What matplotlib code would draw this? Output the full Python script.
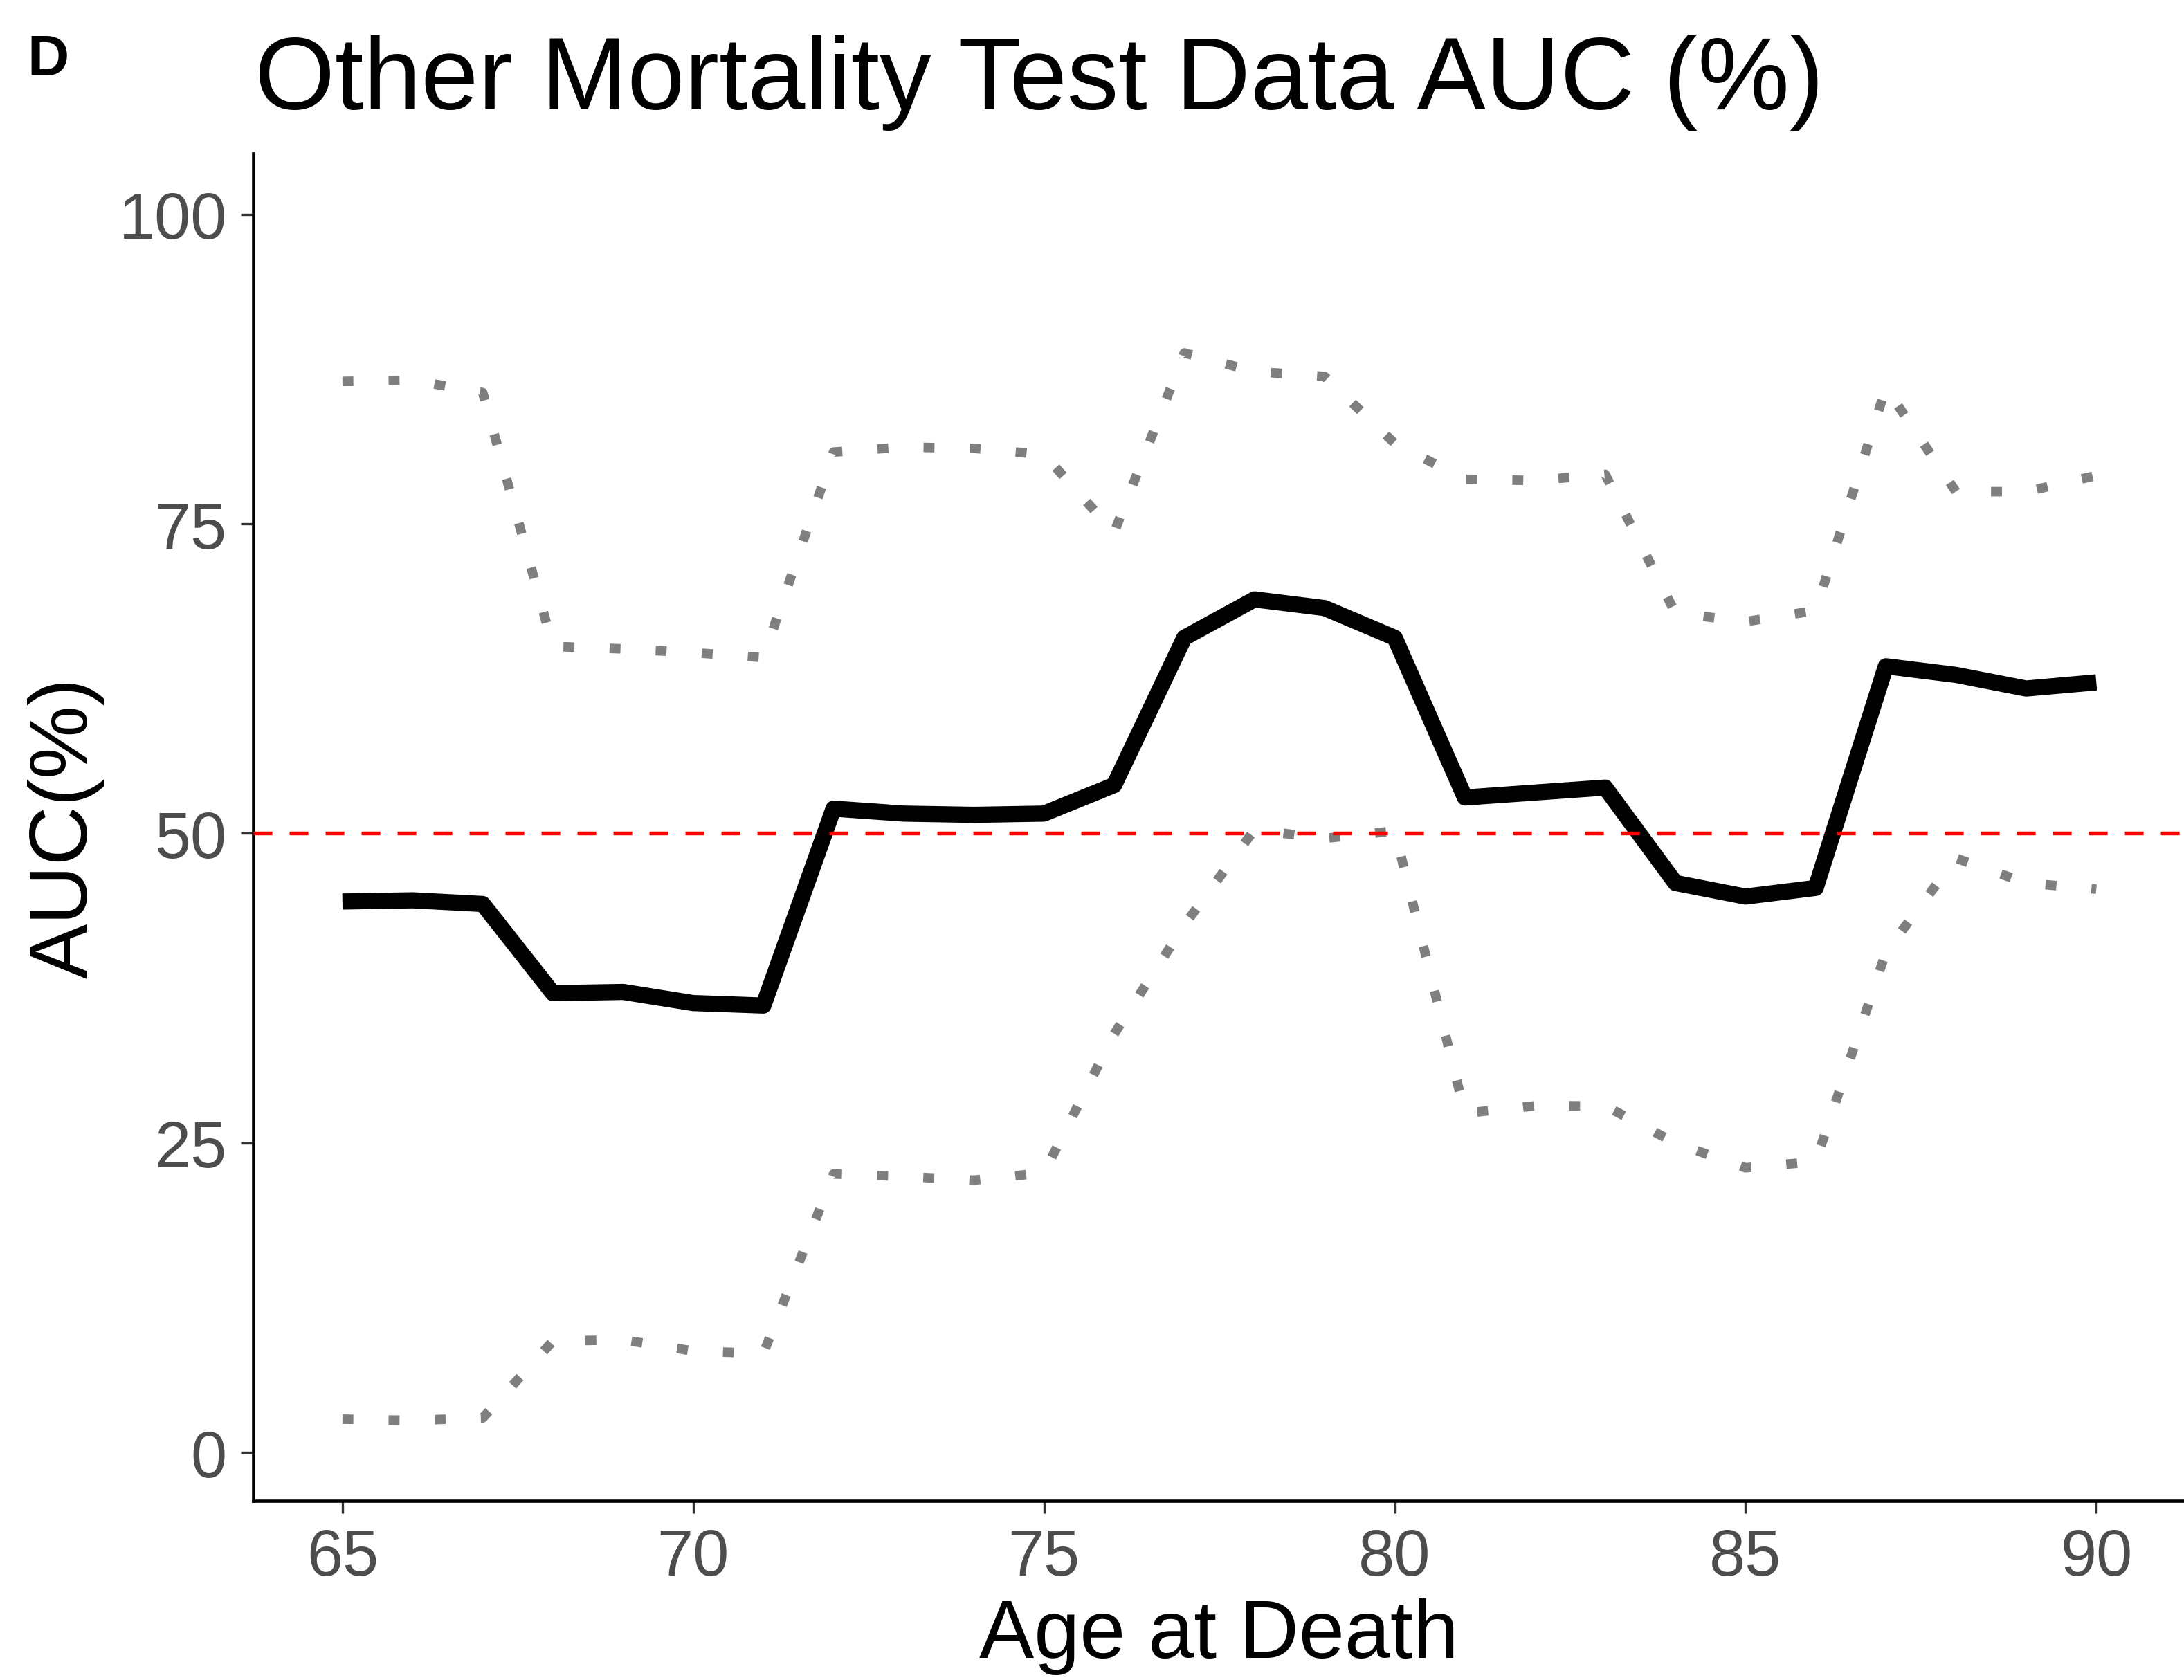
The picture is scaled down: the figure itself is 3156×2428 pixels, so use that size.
import numpy as np
import matplotlib
matplotlib.use("Agg")
import matplotlib.pyplot as plt

plt.rcParams["font.family"] = ["Liberation Sans", "DejaVu Sans"]

# Data
ages = list(range(65, 91))
auc = [44.5, 44.6, 44.3, 37.1, 37.2, 36.3, 36.1, 52.0, 51.6, 51.5, 51.6, 53.9, 65.8,
       68.9, 68.2, 65.8, 52.9, 53.3, 53.7, 46.0, 44.9, 45.6, 63.5, 62.8, 61.7, 62.2]
upper_ci = [86.5, 86.6, 85.6, 65.1, 64.9, 64.6, 64.2, 80.8, 81.2, 81.1, 80.6, 74.3, 88.8,
            87.3, 86.9, 81.5, 78.6, 78.5, 79.0, 67.8, 67.1, 68.0, 86.0, 77.6, 77.6, 78.9]
lower_ci = [2.7, 2.6, 2.8, 9.0, 9.1, 8.2, 8.0, 22.5, 22.3, 22.0, 22.6, 33.8, 42.6,
            50.3, 49.6, 50.2, 27.4, 28.0, 28.0, 25.0, 23.0, 23.5, 40.4, 48.0, 46.0, 45.5]
x_ticks = [65, 70, 75, 80, 85, 90]
y_ticks = [0, 25, 50, 75, 100]

fig = plt.figure(figsize=(3156 / 300, 2429 / 300), dpi=300)
ax = fig.add_axes([0.116, 0.1066, 0.884, 0.8016])

dot_style = (0, (1.15, 3.7))
for band in (upper_ci, lower_ci):
    ax.plot(ages, band, color="#7F7F7F", lw=3.3, linestyle=dot_style,
            dash_capstyle="butt", dash_joinstyle="round", zorder=2)

ax.plot(ages, auc, color="black", lw=5.6, solid_joinstyle="round",
        solid_capstyle="butt", zorder=3)

ax.axhline(50, color="#FF0000", lw=1.3, linestyle=(0, (5, 4.6)), zorder=4)

ax.set_xlim(63.73, 91.25)
ax.set_ylim(-3.9, 104.9)
ax.set_xticks(x_ticks)
ax.set_yticks(y_ticks)

for side in ("top", "right"):
    ax.spines[side].set_visible(False)
for side in ("left", "bottom"):
    ax.spines[side].set_linewidth(1.1)
    ax.spines[side].set_color("black")

ax.tick_params(axis="both", length=4.4, width=0.8, color="#333333",
               labelsize=22.5, labelcolor="#4D4D4D", pad=4.8)

ax.set_xlabel("Age at Death", fontsize=28.5, color="black", labelpad=3)
ax.set_ylabel("AUC(%)", fontsize=28.5, color="black", labelpad=5)

fig.text(0.1166, 0.935, "Other Mortality Test Data AUC (%)", fontsize=35.8,
         color="black", ha="left", va="baseline")
fig.text(0.0125, 0.955, "D", fontsize=20, fontweight="bold", color="black",
         ha="left", va="baseline")

fig.savefig("out.png", dpi=300)
plt.close(fig)
